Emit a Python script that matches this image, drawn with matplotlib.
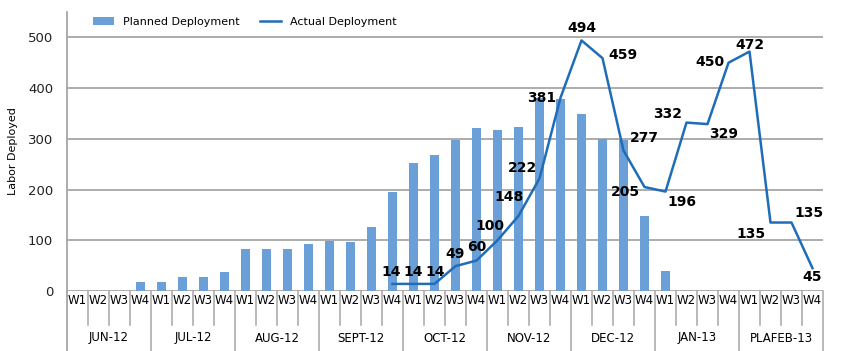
import numpy as np
import matplotlib.pyplot as plt
import matplotlib.transforms as mtransforms

months = ["JUN-12", "JUL-12", "AUG-12", "SEPT-12", "OCT-12", "NOV-12", "DEC-12", "JAN-13", "PLAFEB-13"]
weeks = ["W1", "W2", "W3", "W4"]

planned = [0, 0, 0, 18,
           18, 28, 28, 37,
           82, 82, 82, 93,
           98, 97, 126, 196,
           252, 268, 298, 322,
           317, 323, 380, 379,
           349, 300, 298, 148,
           40, 0, 0, 0,
           0, 0, 0, 0]

# actual deployment starts at SEPT-12 W4
actual_start = 15
actual = [14, 14, 14, 49, 60, 100, 148, 222, 381, 494, 459, 277, 205,
          196, 332, 329, 450, 472, 135, 135, 45]

# label offsets in pixels (dx, dy, ha)
label_pos = [(-1, 12, "center"), (0, 12, "center"), (1, 12, "center"),
             (0, 12, "center"), (0, 14, "center"), (-8, 14, "center"),
             (-9, 19, "center"), (-2, 10, "right"), (-4, 0, "right"),
             (0, 12, "center"), (6, 3, "left"), (6, 12, "left"),
             (-4, -5, "right"), (2, -10, "left"), (-4, 9, "right"),
             (2, -10, "left"), (-4, 1, "right"), (0, 7, "center"),
             (-5, -11, "right"), (3, 10, "left"), (0, -9, "center")]

bar_color = "#6A9FD8"
line_color = "#1F6DB8"
grid_color = "#A6A6A6"

fig = plt.figure(figsize=(8.5, 3.51), dpi=100)
ax = fig.add_axes([67 / 850, 1 - 291 / 351, (823 - 67) / 850, (291 - 12) / 351])

x = np.arange(len(planned))
bars = ax.bar(x, planned, width=0.4, color=bar_color, label="Planned Deployment", zorder=2)
xa = np.arange(actual_start, actual_start + len(actual))
line, = ax.plot(xa, actual, color=line_color, lw=1.8, label="Actual Deployment", zorder=3)

for xi, yi, (dx, dy, ha) in zip(xa, actual, label_pos):
    ax.annotate(str(yi), (xi, yi), xytext=(dx, dy), textcoords="offset pixels",
                ha=ha, va="center", fontsize=10, fontweight="bold", zorder=4)

ax.set_xlim(-0.5, len(planned) - 0.5)
ax.set_ylim(0, 550)
ax.set_yticks(range(0, 600, 100))
ax.tick_params(axis="y", length=0, labelsize=9.5, pad=10, colors="#222222")
ax.set_xticks([])
for yv in range(0, 600, 100):
    ax.axhline(yv, color=grid_color, lw=1.3, zorder=1)
for s in ["top", "right", "bottom"]:
    ax.spines[s].set_visible(False)
ax.spines["left"].set_color(grid_color)
ax.spines["left"].set_linewidth(1.3)
ax.set_ylabel("Labor Deployed", fontsize=8, labelpad=7)

# two-level category axis
trans = mtransforms.blended_transform_factory(ax.transData, ax.transAxes)
px = 1 / 279.0
ax.plot([-0.5, -0.5], [0, -60 * px], transform=trans, color=grid_color, lw=1.3, clip_on=False)
for i in range(len(planned)):
    ax.text(i, -10 * px, weeks[i % 4], transform=trans, ha="center", va="center", fontsize=8.5)
    if i > 0:
        ylow = -60 * px if i % 4 == 0 else -34 * px
        ax.plot([i - 0.5, i - 0.5], [0, ylow], transform=trans, color=grid_color, lw=1.1, clip_on=False)
ax.plot([len(planned) - 0.5] * 2, [0, -60 * px], transform=trans, color=grid_color, lw=1.1, clip_on=False)
for m, name in enumerate(months):
    ax.text(4 * m + 1.5, -47 * px, name, transform=trans, ha="center", va="center", fontsize=8.5)

fig.legend(handles=[bars, line], loc="upper left", bbox_to_anchor=(93 / 850, 1 - 17 / 351), ncol=2,
           frameon=False, fontsize=8, handlelength=1.9, handletextpad=0.8, columnspacing=1.8,
           borderaxespad=0, borderpad=0)

fig.savefig("out.png", dpi=100)
